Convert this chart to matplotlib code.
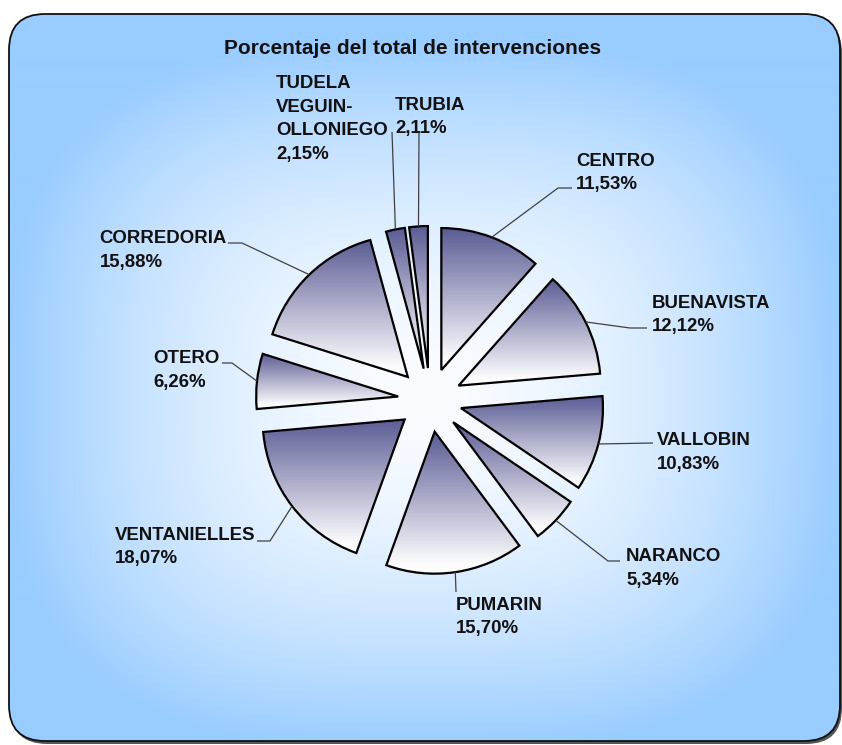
import numpy as np
import matplotlib.pyplot as plt
from matplotlib.patches import FancyBboxPatch
from matplotlib.colors import LinearSegmentedColormap, to_rgb

W, H = 842, 745

# Datos (porcentaje del total de intervenciones por barrio)
barrios = ['CENTRO', 'BUENAVISTA', 'VALLOBIN', 'NARANCO', 'PUMARIN',
           'VENTANIELLES', 'OTERO', 'CORREDORIA',
           'TUDELA\nVEGUIN-\nOLLONIEGO', 'TRUBIA']
porcentajes = [11.53, 12.12, 10.83, 5.34, 15.70, 18.07, 6.26, 15.88, 2.15, 2.11]
titulo = 'Porcentaje del total de intervenciones'

# Posicion de las etiquetas en pixeles de imagen (x, y arriba), alineacion
# y puntos del conector despues del borde del sector
etiquetas_pos = [
    ((576, 153), 'left', [(558, 188), (572, 188)]),
    ((652, 295), 'left', [(630, 328), (647, 328)]),
    ((657, 432), 'left', [(653, 443)]),
    ((626, 548), 'left', [(608, 561), (620, 561)]),
    ((456, 597), 'left', [(456, 592)]),
    ((255, 527), 'right', [(270, 541), (257, 541)]),
    ((220, 350), 'right', [(232, 363), (222, 363)]),
    ((227, 230), 'right', [(242, 243), (228, 243)]),
    ((276, 75), 'left', [(392, 132)]),
    ((395, 97), 'left', [(419, 133)]),
]


def Y(y):
    return H - y


FONT = 'Liberation Sans'

fig = plt.figure(figsize=(W / 100, H / 100), dpi=100)
fig.patch.set_facecolor('white')
ax = fig.add_axes([0, 0, 1, 1])

# --- fondo: panel redondeado con degradado azul claro ---
px0, py0, pw, ph = 9, Y(741), 831, 727
sombra = FancyBboxPatch((px0 + 2, py0 - 3), pw, ph,
                        boxstyle='round,pad=0,rounding_size=36',
                        facecolor='#555555', edgecolor='none', zorder=0)
ax.add_patch(sombra)
panel = FancyBboxPatch((px0, py0), pw, ph,
                       boxstyle='round,pad=0,rounding_size=36',
                       facecolor='none', edgecolor='#111111', linewidth=1.3,
                       zorder=2)
ax.add_patch(panel)

gx, gy = np.meshgrid(np.linspace(0, W, 421), np.linspace(0, H, 373))
u = (gx - 425) / 420.0
v = (gy - Y(395)) / 355.0
p = 3.0
t = np.clip((np.abs(u) ** p + np.abs(v) ** p) ** (1 / p), 0, 1) ** 1.7
c_in = np.array(to_rgb('#fafcff'))
c_out = np.array(to_rgb('#99ccff'))
fondo = c_in[None, None, :] * (1 - t[..., None]) + c_out[None, None, :] * t[..., None]
bg = ax.imshow(fondo, extent=[0, W, 0, H], origin='lower', zorder=1,
               interpolation='bilinear')
bg.set_clip_path(panel)

# --- sectores (explode en unidades de datos = pixeles) ---
wedges, _ = ax.pie(porcentajes, startangle=90, counterclock=False,
                   center=(430, Y(400)), radius=142,
                   explode=[32] * len(porcentajes),
                   wedgeprops=dict(facecolor='none', edgecolor='black',
                                   linewidth=1.6, zorder=4))

cmap = LinearSegmentedColormap.from_list(
    'sector', [(0.0, '#ffffff'), (0.08, '#fbfbfd'), (1.0, '#5b5c94')])
grad = np.linspace(0, 1, 256).reshape(-1, 1)
for w in wedges:
    ext = w.get_path().get_extents()
    im = ax.imshow(grad, extent=[ext.x0, ext.x1, ext.y0, ext.y1],
                   origin='lower', cmap=cmap, zorder=3, aspect='auto',
                   interpolation='bilinear')
    im.set_clip_path(w)

# --- etiquetas y conectores ---
for w, nombre, pct, (txy, ha, pts) in zip(wedges, barrios, porcentajes, etiquetas_pos):
    mid = np.deg2rad((w.theta1 + w.theta2) / 2)
    cx, cy = w.center
    x_ini = cx + w.r * np.cos(mid)
    y_ini = cy + w.r * np.sin(mid)
    xs = [x_ini] + [q[0] for q in pts]
    ys = [y_ini] + [Y(q[1]) for q in pts]
    ax.plot(xs, ys, color='#404040', linewidth=0.9, zorder=5,
            solid_capstyle='butt')
    texto = nombre + '\n' + f'{pct:.2f}'.replace('.', ',') + '%'
    ax.text(txy[0], Y(txy[1]), texto, ha=ha, va='top', multialignment='left',
            fontsize=13.4, fontweight='bold', family=FONT, color='#111111',
            linespacing=1.5, zorder=6)

ax.text(413, Y(48), titulo, ha='center', va='center', fontsize=15,
        fontweight='bold', family=FONT, color='#111111', zorder=6)

ax.set_xlim(0, W)
ax.set_ylim(0, H)
ax.set_aspect('auto')
ax.axis('off')

fig.savefig('out.png', dpi=100, facecolor='white')
